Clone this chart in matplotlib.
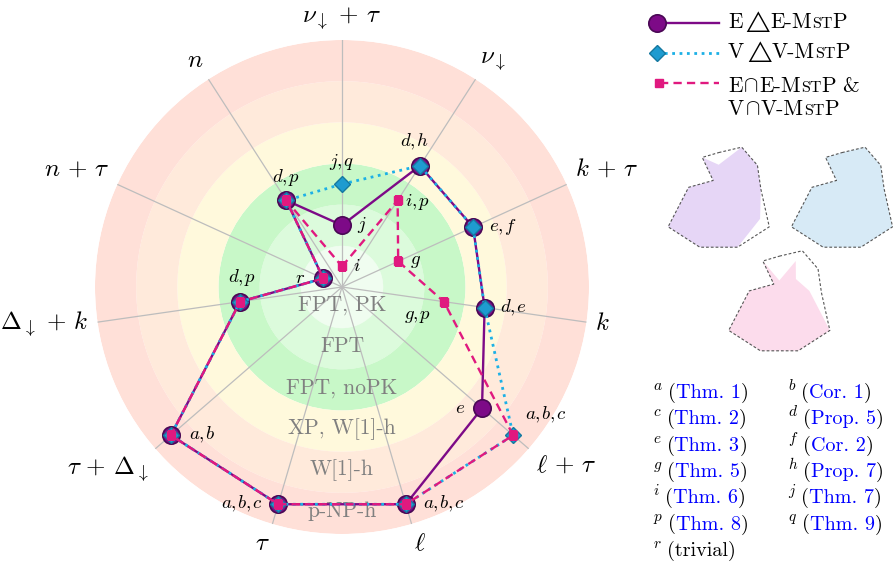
import numpy as np
import matplotlib.pyplot as plt

plt.rcParams['font.family'] = ['cmr10', 'DejaVu Serif']
plt.rcParams['mathtext.fontset'] = 'cm'
plt.rcParams['axes.unicode_minus'] = False

# parameters on the spokes, clockwise from the top
params = [r'$\nu_\downarrow\,+\,\tau$', r'$\nu_\downarrow$', r'$k\,+\,\tau$', r'$k$',
          r'$\ell\,+\,\tau$', r'$\ell$', r'$\tau$', r'$\tau\,+\,\Delta_\downarrow$',
          r'$\Delta_\downarrow\,+\,k$', r'$n\,+\,\tau$', r'$n$']

# complexity levels, inside out
levels = ['FPT, PK', 'FPT', 'FPT, noPK', 'XP, W[1]-h', 'W[1]-h', 'p-NP-h']
level_colors = ['#f0fdf0', '#dcfbdc', '#c8f8c8', '#fff9dc', '#ffeadb', '#ffe0d8']

# level reached by each problem (value = level index + 0.5)
ede = [1.5, 3.5, 3.5, 3.5, 4.5, 5.5, 5.5, 5.5, 2.5, 0.5, 2.5]
vdv = [2.5, 3.5, 3.5, 3.5, 5.5, 5.5, 5.5, 5.5, 2.5, 0.5, 2.5]
eie = [0.5, 2.5, 1.5, 2.5, 5.5, 5.5, 5.5, 5.5, 2.5, 0.5, 2.5]

# result references per spoke
ede_refs = ['j', 'd,h', 'e,f', 'd,e', 'e', 'a,b,c', 'a,b,c', 'a,b', 'd,p', 'r', 'd,p']
vdv_refs = ['j,q', None, None, None, 'a,b,c', None, None, None, None, None, None]
eie_refs = ['i', 'i,p', 'g', 'g,p', None, None, None, None, None, None, None]

# label offsets (pixels, y up)
ede_off = [(20, 0), (-5, 24), (30, 0), (29, 0), (-22, 0), (38, 0), (-36, 0),
           (31, 0), (2, 24), (-23, 0), (0, 23)]
vdv_off = [(0, 22), None, None, None, (33, 20), None, None, None, None, None, None]
eie_off = [(15, 0), (20, -2), (17, 0), (-26, -14)] + [None] * 7

footnotes = [('a', 'Thm. 1'), ('b', 'Cor. 1'), ('c', 'Thm. 2'), ('d', 'Prop. 5'),
             ('e', 'Thm. 3'), ('f', 'Cor. 2'), ('g', 'Thm. 5'), ('h', 'Prop. 7'),
             ('i', 'Thm. 6'), ('j', 'Thm. 7'), ('p', 'Thm. 8'), ('q', 'Thm. 9'),
             ('r', None)]

PURPLE, PURPLE_EDGE = '#7d0a87', '#4a0855'
CYAN, CYAN_FACE, CYAN_EDGE = '#1cb0e6', '#1e9bd0', '#15789f'
MAGENTA = '#e0197f'

n = len(params)
theta = np.arange(n) * 2 * np.pi / n
tc = np.append(theta, theta[0])


def closed(v):
    return np.append(v, v[0])


fig = plt.figure(figsize=(8.93, 5.63), dpi=100)
ax = fig.add_axes([95 / 893, 29 / 563, 494 / 893, 494 / 563], projection='polar')
ax.set_theta_offset(np.pi / 2)
ax.set_theta_direction(-1)
ax.set_ylim(0, 6)
ax.axis('off')

for i, c in enumerate(level_colors):
    ax.bar(0, 1, width=2 * np.pi, bottom=i, color=c, linewidth=0, align='edge', zorder=1)

for t in theta:
    ax.plot([t, t], [0, 6], color='#bdbdbd', lw=0.9, zorder=2)

for i, name in enumerate(levels):
    ax.text(np.pi, i + 0.45, name, ha='center', va='center', fontsize=15.5,
            color='#808080', zorder=3)

# spoke labels
for t, lab in zip(theta, params):
    a = np.pi / 2 - t
    c, s = np.cos(a), np.sin(a)
    ha = 'left' if c > 0.1 else ('right' if c < -0.1 else 'center')
    va = 'bottom' if s > 0.2 else ('top' if s < -0.2 else 'center')
    ax.text(t, 6.22, lab, ha=ha, va=va, fontsize=18)

# E-triangle-E
ax.plot(tc, closed(ede), color=PURPLE, lw=1.7, zorder=4)
ax.plot(theta, ede, ls='none', marker='o', ms=12.5, mfc=PURPLE, mec=PURPLE_EDGE,
        mew=1.2, zorder=5)
# V-triangle-V
ax.plot(tc, closed(vdv), color=CYAN, lw=2, ls=':', zorder=6)
ax.plot(theta, vdv, ls='none', marker='D', ms=8.5, mfc=CYAN_FACE, mec=CYAN_EDGE,
        mew=1, zorder=7)
# E-cap-E / V-cap-V
ax.plot(tc, closed(eie), color=MAGENTA, lw=1.7, dashes=(3.5, 2.2), zorder=8)
ax.plot(theta, eie, ls='none', marker='s', ms=5.5, mfc=MAGENTA, mec=MAGENTA,
        zorder=9)

for vals, refs, offs in [(ede, ede_refs, ede_off), (vdv, vdv_refs, vdv_off),
                         (eie, eie_refs, eie_off)]:
    for t, v, r, o in zip(theta, vals, refs, offs):
        if r is None:
            continue
        ax.annotate('$' + r.replace(',', r'{,}\hspace{0.1}') + '$', xy=(t, v),
                    xytext=(o[0] * 0.72, o[1] * 0.72),
                    textcoords='offset points', ha='center', va='center',
                    fontsize=13.5, zorder=10)

# small copies of each polygon against the common outline
envelope = np.maximum(np.maximum(ede, vdv), eie)
for vals, color, (cx, cy) in [(ede, '#e6d6f6', (718.7, 183)),
                              (vdv, '#d7eaf6', (842, 183)),
                              (eie, '#fcdcec', (779.3, 286.6))]:
    half = 73
    th = fig.add_axes([(cx - half) / 893, (563 - cy - half) / 563,
                       2 * half / 893, 2 * half / 563], projection='polar')
    th.set_theta_offset(np.pi / 2)
    th.set_theta_direction(-1)
    th.set_ylim(0, 6)
    th.axis('off')
    th.fill(tc, closed(vals), color=color, lw=0)
    th.plot(tc, closed(envelope), color='#555555', lw=0.8, dashes=(2.5, 1.8))

# legend and references, laid out in pixel coordinates
ov = fig.add_axes([0, 0, 1, 1])
ov.set_xlim(0, 893)
ov.set_ylim(563, 0)
ov.axis('off')

ov.plot([657, 719], [23, 23], color=PURPLE, lw=1.7)
ov.plot([657], [23], marker='o', ms=12.5, mfc=PURPLE, mec=PURPLE_EDGE, mew=1.2)
ov.plot([657, 719], [53, 53], color=CYAN, lw=2, ls=':')
ov.plot([657], [53], marker='D', ms=8.5, mfc=CYAN_FACE, mec=CYAN_EDGE, mew=1)
ov.plot([660, 719], [83, 83], color=MAGENTA, lw=1.7, dashes=(3.5, 2.2))
ov.plot([659], [83], marker='s', ms=6, mfc=MAGENTA, mec=MAGENTA)

renderer = fig.canvas.get_renderer()
inv = ov.transData.inverted()


def text_run(x, y, pieces):
    for s, size, color, dy, gap in pieces:
        t = ov.text(x, y - dy, s, fontsize=size, color=color, ha='left', va='baseline')
        bb = t.get_window_extent(renderer=renderer)
        x = inv.transform((bb.x1, bb.y0))[0] + gap


BIG, SC = 15.5, 11.5


def mstp(a, op, b, gaps, tail=None):
    run = [(a, BIG, 'black', 0, gaps[0]), ('$' + op + '$', BIG, 'black', 0, gaps[1]),
           (b + '-M', BIG, 'black', 0, 0), ('ST', SC, 'black', 0, 0),
           ('P', BIG, 'black', 0, 0)]
    if tail:
        run[-1] = ('P', BIG, 'black', 0, 6)
        run.append((tail, BIG, 'black', 0, 0))
    return run


text_run(728, 28.5, mstp('E', r'\triangle', 'E', (-0.6, -1.3)))
text_run(728, 58.5, mstp('V', r'\triangle', 'V', (-0.6, -1.3)))
text_run(728, 92, mstp('E', r'\cap', 'E', (0.8, 0.8), '&'))
text_run(728, 115, mstp('V', r'\cap', 'V', (0.8, 0.8)))

col_x = [653, 788]
for k, (letter, ref) in enumerate(footnotes):
    x = col_x[k % 2]
    y = 398 + (k // 2) * 26.3
    if ref is None:
        pieces = [('$' + letter + '$', 11, 'black', 8, 5),
                  ('(trivial)', 14.5, 'black', 0, 0)]
    else:
        pieces = [('$' + letter + '$', 11, 'black', 8, 5),
                  ('(', 14.5, 'black', 0, 0),
                  (ref, 14.5, 'blue', 0, 0),
                  (')', 14.5, 'black', 0, 0)]
    text_run(x, y, pieces)

fig.savefig('out.png', dpi=100)
